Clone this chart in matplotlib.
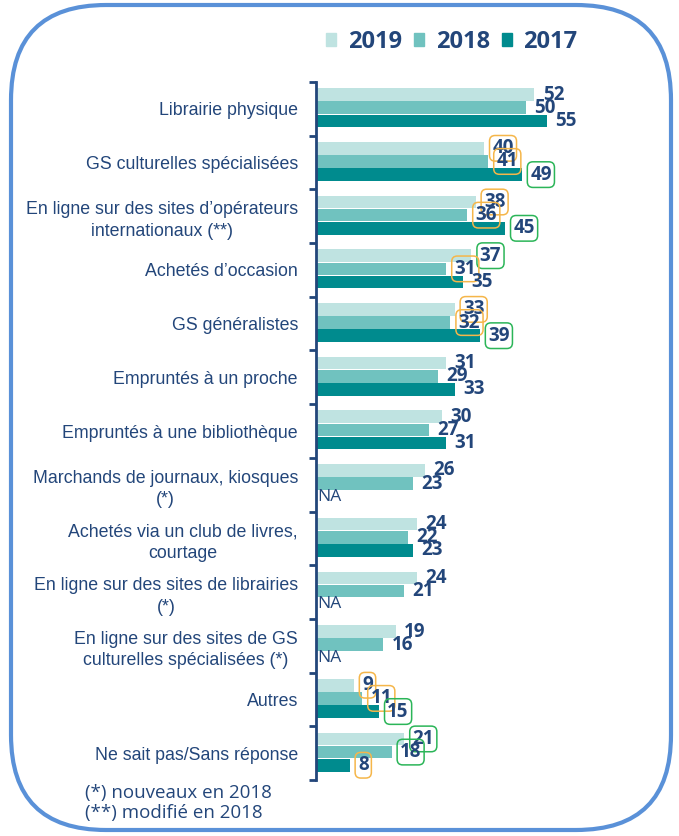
import matplotlib.pyplot as plt
from matplotlib.patches import FancyBboxPatch, Patch
import numpy as np

CATEGORIES = [
    "Librairie physique",
    "GS culturelles spécialisées",
    "En ligne sur des sites d’opérateurs\ninternationaux (**)",
    "Achetés d’occasion",
    "GS généralistes",
    "Empruntés à un proche",
    "Empruntés à une bibliothèque",
    "Marchands de journaux, kiosques\n(*)",
    "Achetés via un club de livres,\ncourtage",
    "En ligne sur des sites de librairies\n(*)",
    "En ligne sur des sites de GS\nculturelles spécialisées (*)",
    "Autres",
    "Ne sait pas/Sans réponse",
]
YEARS = ["2019", "2018", "2017"]
V2019 = [52, 40, 38, 37, 33, 31, 30, 26, 24, 24, 19, 9, 21]
V2018 = [50, 41, 36, 31, 32, 29, 27, 23, 22, 21, 16, 11, 18]
V2017 = [55, 49, 45, 35, 39, 33, 31, None, 23, None, None, 15, 8]
# highlight boxes: "o" orange, "g" green, "" none
HL2019 = ["", "o", "o", "g", "o", "", "", "", "", "", "", "o", "g"]
HL2018 = ["", "o", "o", "o", "o", "", "", "", "", "", "", "o", "g"]
HL2017 = ["", "g", "g", "", "g", "", "", "", "", "", "", "g", "o"]
FOOTNOTES = ["(*) nouveaux en 2018", "(**) modifié en 2018"]

COLORS = ["#bfe3e1", "#70c2bf", "#008b8e"]
NAVY = "#23467a"
BOX = {"o": "#f5b64a", "g": "#2bb558"}
OFFSETS = [-0.265, -0.02, 0.225]

fig = plt.figure(figsize=(6.79, 8.36), dpi=100)

# rounded frame in pixel coords
bg = fig.add_axes([0, 0, 1, 1])
bg.set_xlim(0, 679)
bg.set_ylim(836, 0)
bg.axis("off")
r = 95
bg.add_patch(FancyBboxPatch((11 + r, 5 + r), 660 - 2 * r, 825 - 2 * r,
                            boxstyle=f"round,pad={r}", fc="none",
                            ec="#5a91d8", lw=3.0))

ax = fig.add_axes([316 / 679, 1 - 780 / 836, 273 / 679, 698 / 836])
y = np.arange(len(CATEGORIES))
series = [V2019, V2018, V2017]
highlights = [HL2019, HL2018, HL2017]

for vals, hl, col, off in zip(series, highlights, COLORS, OFFSETS):
    for i, v in enumerate(vals):
        if v is None:
            ax.text(0.4, i + off, "NA", va="center", ha="left", color=NAVY,
                    fontsize=12.5, family="Open Sans")
            continue
        ax.barh(i + off, v, height=0.235, color=col)
        box = None
        if hl[i]:
            box = dict(boxstyle="round,pad=0.15,rounding_size=0.3", fc="none",
                       ec=BOX[hl[i]], lw=1.1)
        ax.annotate(str(v), (v, i + off), xytext=(6, 0), textcoords="offset points",
                    va="center", ha="left", color=NAVY, fontsize=13.5,
                    fontweight="bold", family="Open Sans", bbox=box)

ax.set_xlim(0, 65)
ax.set_ylim(len(CATEGORIES) - 0.5, -0.5)
ax.set_xticks([])
for s in ["top", "right", "bottom"]:
    ax.spines[s].set_visible(False)
ax.spines["left"].set_color(NAVY)
ax.spines["left"].set_linewidth(2)

ax.set_yticks(y)
ax.set_yticklabels(CATEGORIES, fontsize=12.8, color=NAVY, family="Liberation Sans")
ax.set_yticks(np.arange(len(CATEGORIES) + 1) - 0.5, minor=True)
ax.tick_params(axis="y", which="major", length=0, pad=13)
ax.tick_params(axis="y", which="minor", length=5, width=2, color=NAVY)
for lbl in ax.get_yticklabels():
    lbl.set_multialignment("center")
    lbl.set_linespacing(1.35)

handles = [Patch(color=c) for c in COLORS]
fig.legend(handles, YEARS, loc="center", bbox_to_anchor=(452 / 679, 1 - 42 / 836),
           ncol=3, frameon=False, handlelength=0.42, handleheight=0.42,
           handletextpad=0.5, columnspacing=0.5,
           prop={"family": "Open Sans", "weight": "bold", "size": 17},
           labelcolor=NAVY)

fig.text(85 / 679, 1 - 793 / 836, FOOTNOTES[0], fontsize=13.5, color=NAVY,
         family="Open Sans", va="center")
fig.text(85 / 679, 1 - 813 / 836, FOOTNOTES[1], fontsize=13.5, color=NAVY,
         family="Open Sans", va="center")

fig.savefig("out.png", dpi=100)
